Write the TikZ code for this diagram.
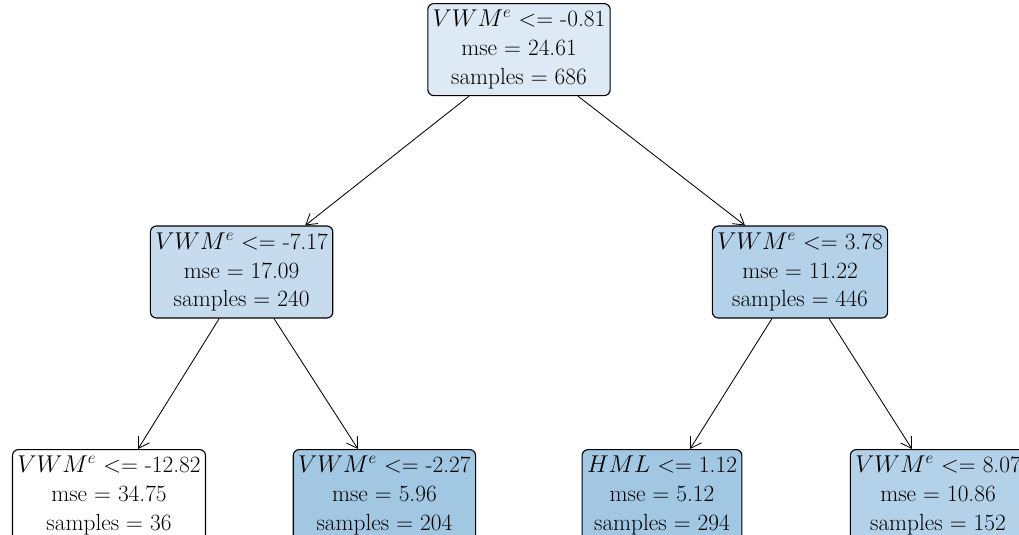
\documentclass[tikz,border=0pt]{standalone}
\usepackage{amsmath}
\usepackage{tikz}
\usetikzlibrary{arrows.meta,positioning}

\definecolor{nroot}{HTML}{DDE9F4}
\definecolor{nlmid}{HTML}{C6DBEE}
\definecolor{nrmid}{HTML}{B3D1E9}
\definecolor{ndeep}{HTML}{A2C7E3}

\begin{document}
\begin{tikzpicture}[>={Straight Barb[length=0.26cm,width=0.32cm]},
    split/.style={draw,rounded corners=0.15cm,line width=0.8pt,align=center,
        inner xsep=3.5pt,minimum height=2.3cm,
        font=\fontsize{16.6}{20.6}\selectfont},
    every edge/.style={draw,line width=0.6pt}]
    \clip (0,0) rectangle (25.475,-13.35);
    \node[split,fill=nroot] (r)   at (12.975,-1.24) {$VWM^e$ <= -0.81\\mse = 24.61\\samples = 686};
    \node[split,fill=nlmid] (l)   at (6.04,-6.8)  {$VWM^e$ <= -7.17\\mse = 17.09\\samples = 240};
    \node[split,fill=nrmid] (rr)  at (20,-6.8)    {$VWM^e$ <= 3.78\\mse = 11.22\\samples = 446};
    \node[split,fill=white] (ll)  at (2.725,-12.39) {$VWM^e$ <= -12.82\\mse = 34.75\\samples = 36};
    \node[split,fill=ndeep] (lr)  at (9.61,-12.39)  {$VWM^e$ <= -2.27\\mse = 5.96\\samples = 204};
    \node[split,fill=ndeep] (rl)  at (16.55,-12.39) {$HML$ <= 1.12\\mse = 5.12\\samples = 294};
    \node[split,fill=nrmid] (rrr) at (23.45,-12.39) {$VWM^e$ <= 8.07\\mse = 10.86\\samples = 152};
    \path[->]
    ([xshift=-1.25cm]r.south) edge ([xshift=1.59cm]l.north)
    ([xshift=1.475cm]r.south) edge ([xshift=-1.375cm]rr.north)
    ([xshift=-0.56cm]l.south) edge ([xshift=0.725cm]ll.north)
    ([xshift=0.81cm]l.south) edge ([xshift=-0.66cm]lr.north)
    ([xshift=-0.7cm]rr.south) edge ([xshift=0.7cm]rl.north)
    ([xshift=0.725cm]rr.south) edge ([xshift=-0.65cm]rrr.north)
        ;

\end{tikzpicture}
\end{document}
